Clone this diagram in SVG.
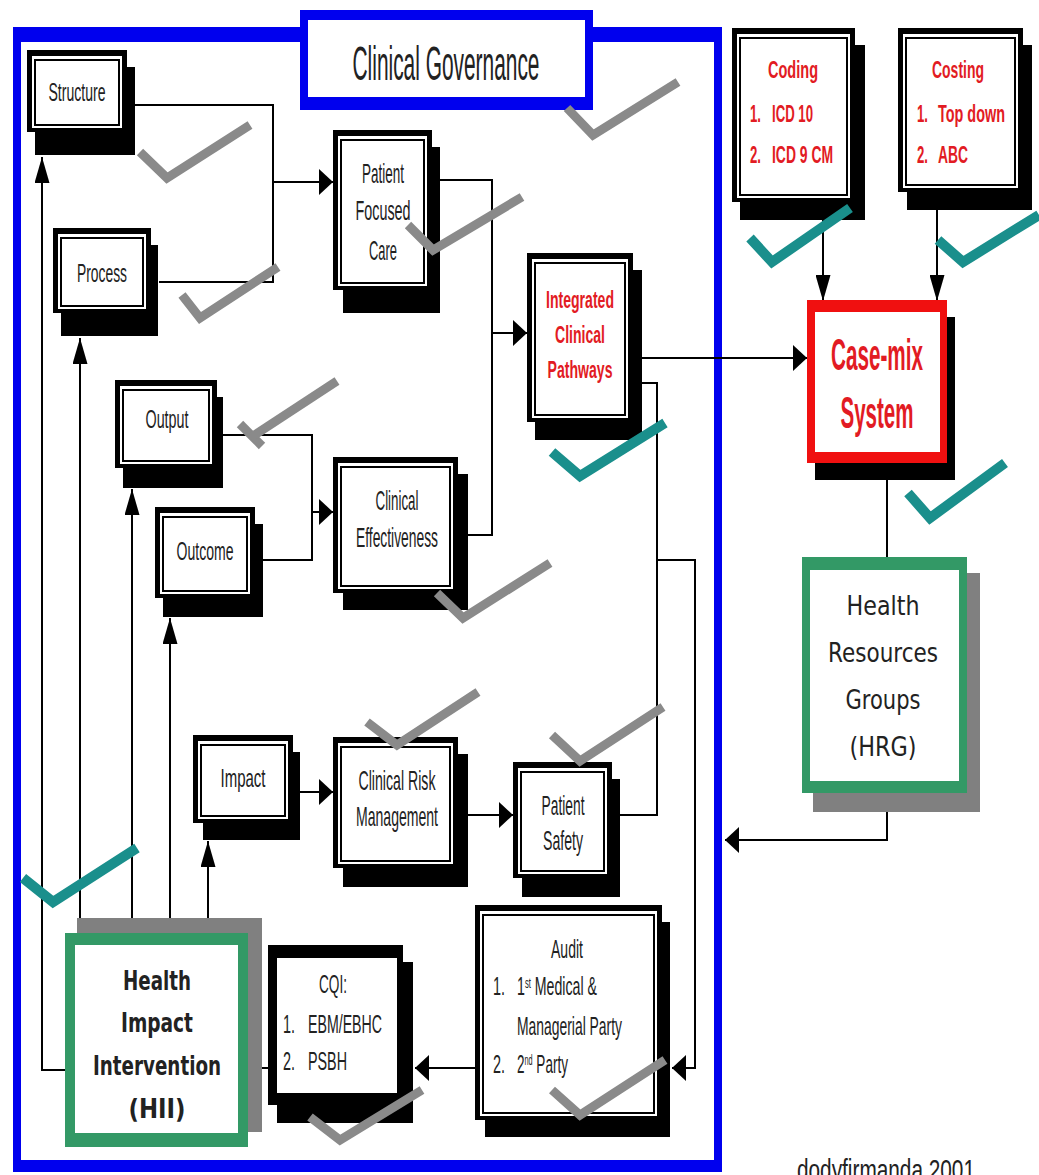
<svg xmlns="http://www.w3.org/2000/svg" width="1039" height="1175" viewBox="0 0 1039 1175">
<style>
.sh{fill:#000}
.ob{fill:#000}
.iw{fill:#fff}
.il{fill:#fff;stroke:#000;stroke-width:2}
.t{font-family:"Liberation Sans",Arial,sans-serif;fill:#222;text-anchor:middle}
.s{text-anchor:start}
.r{fill:#e21b23;font-weight:bold}
.c{font-family:"DejaVu Sans","Liberation Sans",sans-serif;fill:#222;text-anchor:middle}
.cn{fill:none;stroke:#000;stroke-width:2}
.ck{fill:none;stroke:#8a8a8a;stroke-width:9}
.tk{fill:none;stroke:#1a8f8c;stroke-width:10}
</style>
<defs>
<marker id="ah" markerUnits="userSpaceOnUse" markerWidth="14" markerHeight="26" refX="14" refY="13" orient="auto"><path d="M0,0 L14,13 L0,26 Z" fill="#000"/></marker>
<marker id="av" markerUnits="userSpaceOnUse" markerWidth="26" markerHeight="15" refX="26" refY="7.5" orient="auto"><path d="M0,0 L26,7.5 L0,15 Z" fill="#000"/></marker>
</defs>
<rect width="1039" height="1175" fill="#fff"/>

<g id="frame">
<rect x="17" y="35" width="701" height="1131" fill="none" stroke="#0000ee" stroke-width="8"/>
<rect x="13" y="27" width="709" height="15" fill="#0000ee"/>
<rect x="13" y="1160" width="709" height="12" fill="#0000ee"/>
</g>

<g id="connectors">
<path class="cn" d="M135,105 H273 V282 H159"/>
<path class="cn" d="M273,182 H333" marker-end="url(#ah)"/>
<path class="cn" d="M440,180 H492 V535 H466"/>
<path class="cn" d="M492,333 H527" marker-end="url(#ah)"/>
<path class="cn" d="M223,435 H312 V560 H263"/>
<path class="cn" d="M312,512 H333" marker-end="url(#ah)"/>
<path class="cn" d="M642,358 H807" marker-end="url(#ah)"/>
<path class="cn" d="M620,815 H657 V383 H642" stroke="#444"/>
<path class="cn" d="M657,560 H695 V1068 H672" marker-end="url(#ah)"/>
<path class="cn" d="M475,1068 H415" marker-end="url(#ah)"/>
<path class="cn" d="M268,1068 H262"/>
<path class="cn" d="M65,1070 H42 V157" marker-end="url(#av)"/>
<path class="cn" d="M80,918 V338" marker-end="url(#av)"/>
<path class="cn" d="M132,918 V489" marker-end="url(#av)"/>
<path class="cn" d="M170,918 V618" marker-end="url(#av)"/>
<path class="cn" d="M208,918 V841" marker-end="url(#av)"/>
<path class="cn" d="M300,792 H333" marker-end="url(#ah)"/>
<path class="cn" d="M468,815 H513" marker-end="url(#ah)"/>
<path class="cn" d="M887,480 V557"/>
<path class="cn" d="M887,812 V840 H725" marker-end="url(#ah)"/>
<path class="cn" d="M823,220 V301" marker-end="url(#av)"/>
<path class="cn" d="M937,210 V301" marker-end="url(#av)"/>
</g>

<g id="clinical-governance">
<rect x="300" y="10" width="293" height="100" fill="#0000ee"/>
<rect x="308" y="20" width="277" height="77" fill="#fff"/>
<text class="t" x="446" y="80" font-size="48" textLength="187" lengthAdjust="spacingAndGlyphs" fill="#333">Clinical Governance</text>
</g>

<g id="structure">
<rect class="sh" x="35" y="67" width="100" height="88"/>
<rect class="ob" x="27" y="50" width="100" height="82"/>
<rect class="iw" x="32" y="56" width="90" height="72"/>
<rect class="il" x="35" y="60" width="84" height="65"/>
<text class="t" x="77" y="101" font-size="26" textLength="57" lengthAdjust="spacingAndGlyphs">Structure</text>
</g>

<g id="process">
<rect class="sh" x="61" y="245" width="97" height="91"/>
<rect class="ob" x="53" y="228" width="98" height="85"/>
<rect class="iw" x="58" y="234" width="88" height="75"/>
<rect class="il" x="61" y="238" width="82" height="68"/>
<text class="t" x="102" y="282" font-size="26" textLength="50" lengthAdjust="spacingAndGlyphs">Process</text>
</g>

<g id="output">
<rect class="sh" x="123" y="397" width="100" height="91"/>
<rect class="ob" x="115" y="380" width="102" height="88"/>
<rect class="iw" x="120" y="386" width="92" height="78"/>
<rect class="il" x="123" y="390" width="86" height="71"/>
<text class="t" x="167" y="428" font-size="25" textLength="43" lengthAdjust="spacingAndGlyphs">Output</text>
</g>

<g id="outcome">
<rect class="sh" x="163" y="524" width="100" height="93"/>
<rect class="ob" x="155" y="507" width="100" height="91"/>
<rect class="iw" x="160" y="513" width="90" height="81"/>
<rect class="il" x="163" y="517" width="84" height="74"/>
<text class="t" x="205" y="560" font-size="26" textLength="57" lengthAdjust="spacingAndGlyphs">Outcome</text>
</g>

<g id="patient-focused-care">
<rect class="sh" x="343" y="147" width="97" height="166"/>
<rect class="ob" x="333" y="130" width="99" height="160"/>
<rect class="iw" x="338" y="136" width="89" height="150"/>
<rect class="il" x="341" y="140" width="83" height="143"/>
<text class="t" x="383" y="183" font-size="28" textLength="42" lengthAdjust="spacingAndGlyphs">Patient</text>
<text class="t" x="383" y="220" font-size="28" textLength="55" lengthAdjust="spacingAndGlyphs">Focused</text>
<text class="t" x="383" y="260" font-size="28" textLength="28" lengthAdjust="spacingAndGlyphs">Care</text>
</g>

<g id="integrated-clinical-pathways">
<rect class="sh" x="535" y="270" width="107" height="170"/>
<rect class="ob" x="527" y="253" width="106" height="169"/>
<rect class="iw" x="532" y="259" width="96" height="159"/>
<rect class="il" x="535" y="263" width="90" height="152"/>
<text class="t r" x="580" y="308" font-size="24" textLength="68" lengthAdjust="spacingAndGlyphs">Integrated</text>
<text class="t r" x="580" y="343" font-size="24" textLength="50" lengthAdjust="spacingAndGlyphs">Clinical</text>
<text class="t r" x="580" y="378" font-size="24" textLength="65" lengthAdjust="spacingAndGlyphs">Pathways</text>
</g>

<g id="clinical-effectiveness">
<rect class="sh" x="343" y="474" width="125" height="136"/>
<rect class="ob" x="333" y="457" width="125" height="136"/>
<rect class="iw" x="338" y="463" width="115" height="126"/>
<rect class="il" x="341" y="467" width="109" height="119"/>
<text class="t" x="397" y="510" font-size="28" textLength="43" lengthAdjust="spacingAndGlyphs">Clinical</text>
<text class="t" x="397" y="547" font-size="28" textLength="82" lengthAdjust="spacingAndGlyphs">Effectiveness</text>
</g>

<g id="impact">
<rect class="sh" x="203" y="752" width="97" height="88"/>
<rect class="ob" x="193" y="735" width="100" height="88"/>
<rect class="iw" x="198" y="741" width="90" height="78"/>
<rect class="il" x="201" y="745" width="84" height="71"/>
<text class="t" x="243" y="787" font-size="25" textLength="45" lengthAdjust="spacingAndGlyphs">Impact</text>
</g>

<g id="clinical-risk-management">
<rect class="sh" x="343" y="754" width="125" height="133"/>
<rect class="ob" x="333" y="737" width="125" height="131"/>
<rect class="iw" x="338" y="743" width="115" height="121"/>
<rect class="il" x="341" y="747" width="109" height="114"/>
<text class="t" x="397" y="790" font-size="28" textLength="77" lengthAdjust="spacingAndGlyphs">Clinical Risk</text>
<text class="t" x="397" y="826" font-size="28" textLength="82" lengthAdjust="spacingAndGlyphs">Management</text>
</g>

<g id="patient-safety">
<rect class="sh" x="522" y="779" width="98" height="118"/>
<rect class="ob" x="513" y="762" width="99" height="116"/>
<rect class="iw" x="518" y="768" width="89" height="106"/>
<rect class="il" x="521" y="772" width="83" height="99"/>
<text class="t" x="563" y="815" font-size="28" textLength="43" lengthAdjust="spacingAndGlyphs">Patient</text>
<text class="t" x="563" y="850" font-size="28" textLength="40" lengthAdjust="spacingAndGlyphs">Safety</text>
</g>

<g id="cqi">
<rect class="sh" x="277" y="962" width="136" height="161"/>
<rect class="ob" x="268" y="945" width="135" height="160"/>
<rect class="iw" x="277" y="958" width="120" height="135"/>
<text class="t" x="333" y="993" font-size="26" textLength="28" lengthAdjust="spacingAndGlyphs">CQI:</text>
<text class="t s" x="283" y="1033" font-size="26" textLength="12" lengthAdjust="spacingAndGlyphs">1.</text>
<text class="t s" x="308" y="1033" font-size="26" textLength="74" lengthAdjust="spacingAndGlyphs">EBM/EBHC</text>
<text class="t s" x="283" y="1070" font-size="26" textLength="12" lengthAdjust="spacingAndGlyphs">2.</text>
<text class="t s" x="308" y="1070" font-size="26" textLength="39" lengthAdjust="spacingAndGlyphs">PSBH</text>
</g>

<g id="audit">
<rect class="sh" x="485" y="922" width="185" height="215"/>
<rect class="ob" x="475" y="905" width="187" height="215"/>
<rect class="iw" x="480" y="911" width="177" height="205"/>
<rect class="il" x="483" y="915" width="171" height="198"/>
<text class="t" x="567" y="958" font-size="26" textLength="32" lengthAdjust="spacingAndGlyphs">Audit</text>
<text class="t s" x="493" y="995" font-size="26" textLength="12" lengthAdjust="spacingAndGlyphs">1.</text>
<text class="t s" font-size="26" transform="translate(517,995) scale(0.545,1)">1<tspan font-size="14" baseline-shift="super">st</tspan> Medical &amp;</text>
<text class="t s" x="517" y="1035" font-size="26" textLength="105" lengthAdjust="spacingAndGlyphs">Managerial Party</text>
<text class="t s" x="493" y="1073" font-size="26" textLength="12" lengthAdjust="spacingAndGlyphs">2.</text>
<text class="t s" font-size="26" transform="translate(517,1073) scale(0.52,1)">2<tspan font-size="14" baseline-shift="super">nd</tspan> Party</text>
</g>

<g id="coding">
<rect class="sh" x="740" y="45" width="125" height="175"/>
<rect class="ob" x="732" y="28" width="123" height="174"/>
<rect class="iw" x="737" y="34" width="113" height="164"/>
<rect class="il" x="740" y="38" width="107" height="157"/>
<text class="t r" x="793" y="78" font-size="24" textLength="50" lengthAdjust="spacingAndGlyphs">Coding</text>
<text class="t r s" x="750" y="122" font-size="24" textLength="11" lengthAdjust="spacingAndGlyphs">1.</text>
<text class="t r s" x="772" y="122" font-size="24" textLength="41" lengthAdjust="spacingAndGlyphs">ICD 10</text>
<text class="t r s" x="750" y="163" font-size="24" textLength="11" lengthAdjust="spacingAndGlyphs">2.</text>
<text class="t r s" x="772" y="163" font-size="24" textLength="61" lengthAdjust="spacingAndGlyphs">ICD 9 CM</text>
</g>

<g id="costing">
<rect class="sh" x="907" y="45" width="125" height="165"/>
<rect class="ob" x="898" y="28" width="125" height="164"/>
<rect class="iw" x="903" y="34" width="115" height="154"/>
<rect class="il" x="906" y="38" width="109" height="147"/>
<text class="t r" x="958" y="78" font-size="24" textLength="52" lengthAdjust="spacingAndGlyphs">Costing</text>
<text class="t r s" x="917" y="122" font-size="24" textLength="11" lengthAdjust="spacingAndGlyphs">1.</text>
<text class="t r s" x="938" y="122" font-size="24" textLength="67" lengthAdjust="spacingAndGlyphs">Top down</text>
<text class="t r s" x="917" y="163" font-size="24" textLength="11" lengthAdjust="spacingAndGlyphs">2.</text>
<text class="t r s" x="938" y="163" font-size="24" textLength="30" lengthAdjust="spacingAndGlyphs">ABC</text>
</g>

<g id="case-mix-system">
<rect x="815" y="317" width="140" height="163" fill="#000"/>
<rect x="807" y="300" width="140" height="163" fill="#f01010"/>
<rect x="815" y="312" width="125" height="140" fill="#fff"/>
<text class="t r" x="877" y="370" font-size="44" textLength="92" lengthAdjust="spacingAndGlyphs">Case-mix</text>
<text class="t r" x="877" y="428" font-size="44" textLength="73" lengthAdjust="spacingAndGlyphs">System</text>
</g>

<g id="hrg">
<rect x="813" y="573" width="167" height="239" fill="#808080"/>
<rect x="802" y="557" width="165" height="236" fill="#339966"/>
<rect x="810" y="570" width="149" height="211" fill="#fff"/>
<text class="c" x="883" y="615" font-size="27" textLength="73" lengthAdjust="spacingAndGlyphs">Health</text>
<text class="c" x="883" y="662" font-size="27" textLength="110" lengthAdjust="spacingAndGlyphs">Resources</text>
<text class="c" x="883" y="709" font-size="27" textLength="75" lengthAdjust="spacingAndGlyphs">Groups</text>
<text class="c" x="883" y="756" font-size="27" textLength="67" lengthAdjust="spacingAndGlyphs">(HRG)</text>
</g>

<g id="hii">
<rect x="77" y="918" width="185" height="214" fill="#808080"/>
<rect x="65" y="933" width="183" height="214" fill="#339966"/>
<rect x="75" y="945" width="163" height="188" fill="#fff"/>
<text class="c" x="157" y="990" font-size="26" font-weight="bold" textLength="68" lengthAdjust="spacingAndGlyphs">Health</text>
<text class="c" x="157" y="1032" font-size="26" font-weight="bold" textLength="72" lengthAdjust="spacingAndGlyphs">Impact</text>
<text class="c" x="157" y="1075" font-size="26" font-weight="bold" textLength="128" lengthAdjust="spacingAndGlyphs">Intervention</text>
<text class="c" x="157" y="1118" font-size="26" font-weight="bold" textLength="57" lengthAdjust="spacingAndGlyphs">(HII)</text>
</g>

<g id="checkmarks">
<polyline class="ck" points="567,108 593,135 678,82"/>
<polyline class="ck" points="140,152 167,178 250,125"/>
<polyline class="ck" points="182,295 200,318 278,267"/>
<polyline class="ck" points="408,225 433,250 522,197"/>
<polyline class="ck" points="240,424 262,446"/>
<polyline class="ck" points="250,438 337,381"/>
<polyline class="ck" points="437,593 463,618 550,563"/>
<polyline class="ck" points="367,722 397,745 478,692"/>
<polyline class="ck" points="552,735 580,761 663,707"/>
<polyline class="ck" points="310,1117 340,1140 422,1090"/>
<polyline class="ck" points="552,1090 580,1115 665,1060"/>
<polyline class="tk" points="750,238 772,262 850,208"/>
<polyline class="tk" points="938,240 963,262 1039,215"/>
<polyline class="tk" points="552,452 580,476 665,423"/>
<polyline class="tk" points="908,493 930,518 1005,463"/>
<polyline class="tk" points="23,878 53,902 137,848"/>
</g>

<text class="t s" x="797" y="1180" font-size="30" textLength="178" lengthAdjust="spacingAndGlyphs" fill="#333">dodyfirmanda 2001</text>
</svg>
